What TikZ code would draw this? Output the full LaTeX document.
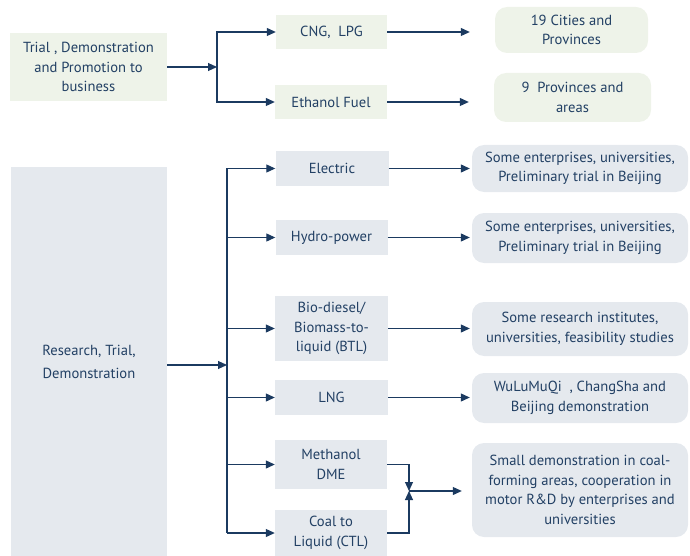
\documentclass[tikz,border=0pt]{standalone}
\usepackage{fontspec}
\setmainfont{PT Sans}
\usepackage{tikz}
\usetikzlibrary{arrows.meta}
\definecolor{navy1}{RGB}{27,58,96}
\definecolor{text1}{RGB}{34,64,100}
\definecolor{green1}{RGB}{238,243,233}
\definecolor{gray1}{RGB}{229,233,238}
\def\gap{25pt}

\begin{document}
\begin{tikzpicture}[	x=1pt, y=-1pt, >={Triangle[length=9pt,width=8pt]},
				font=\fontsize{14.6}{19.5}\selectfont, text=text1,
				link/.style={draw=navy1,line width=1.1pt},
				catbox/.style={fill=#1,align=center,inner sep=0pt},
				resbox/.style={fill=#1,align=center,inner sep=0pt,rounded corners=12pt}]

	\useasboundingbox (0,0) rectangle (690,556);

	% Trial, demonstration and promotion
	\node[catbox=green1,minimum width=157pt,minimum height=68pt] (trial) at (88.5,67) {Trial , Demonstration\\and Promotion to\\business};
	\node[catbox=green1,minimum width=111pt,minimum height=34pt] (cng) at (331.5,32) {CNG,\ \ LPG};
	\node[catbox=green1,minimum width=112pt,minimum height=34pt] (eth) at (331,102) {Ethanol Fuel};
	\node[resbox=green1,minimum width=153pt,minimum height=46pt] (cities) at (571.5,30) {19 Cities and\\Provinces};
	\node[resbox=green1,minimum width=157pt,minimum height=49pt] (prov) at (572.5,97.5) {9\ \ Provinces and\\areas};

	\coordinate (tj) at (217,67);
	\draw[link,->] (trial.east |- tj) -- (tj);
	\draw[link,->] (tj) |- (cng.west);
	\draw[link,->] (tj) |- (eth.west);
	\draw[link,->,shorten >=\gap] (cng.east) -- (cng.east -| cities.west);
	\draw[link,->,shorten >=\gap] (eth.east) -- (eth.east -| prov.west);

	% Research, trial, demonstration
	\node[catbox=gray1,minimum width=156pt,minimum height=389pt,font=\fontsize{14.6}{23}\selectfont] (research) at (89,361.5) {Research, Trial,\\Demonstration};
	\node[catbox=gray1,minimum width=113pt,minimum height=35pt] (elec) at (332,168.5) {Electric};
	\node[catbox=gray1,minimum width=112pt,minimum height=35pt] (hydro) at (331.5,237.5) {Hydro-power};
	\node[catbox=gray1,minimum width=113pt,minimum height=65pt] (bio) at (331.5,328.5) {Bio-diesel/\\Biomass-to-\\liquid (BTL)};
	\node[catbox=gray1,minimum width=113pt,minimum height=35pt] (lng) at (331.5,397.5) {LNG};
	\node[catbox=gray1,minimum width=112pt,minimum height=49pt] (meth) at (331,464.5) {Methanol\\DME};
	\node[catbox=gray1,minimum width=112pt,minimum height=46pt] (coal) at (331,533) {Coal to\\Liquid (CTL)};

	\node[resbox=gray1,minimum width=216pt,minimum height=47pt] (res1) at (580,168.5) {Some enterprises, universities,\\Preliminary trial in Beijing};
	\node[resbox=gray1,minimum width=216pt,minimum height=50pt] (res2) at (580,238) {Some enterprises, universities,\\Preliminary trial in Beijing};
	\node[resbox=gray1,minimum width=216pt,minimum height=54pt] (res3) at (580,329) {Some research institutes,\\universities, feasibility studies};
	\node[resbox=gray1,minimum width=216pt,minimum height=50pt] (res4) at (580,398) {WuLuMuQi\ \ , ChangSha and\\Beijing demonstration};
	\node[resbox=gray1,minimum width=216pt,minimum height=94pt] (res5) at (580,490) {Small demonstration in coal-\\forming areas, cooperation in\\motor R\&D by enterprises and\\universities};

	\coordinate (rj) at (227,365);
	\draw[link,->] (research.east |- rj) -- (rj);
	\draw[link] (rj) -- (rj |- elec.west);
	\draw[link] (rj) -- (rj |- coal.west);
	\foreach \n in {elec,hydro,bio,lng,meth,coal}
		\draw[link,->] (rj |- \n.west) -- (\n.west);
	\foreach \n/\r in {elec/res1,hydro/res2,bio/res3,lng/res4}
		\draw[link,->,shorten >=2pt] (\n.east) -- (\n.east -| \r.west);

	% Methanol and coal merge
	\coordinate (mj) at (409,491);
	\draw[link,->] (meth.east) -| (mj);
	\draw[link,->] (coal.east) -| (mj);
	\draw[link,->,shorten >=10pt] (mj) -- (mj -| res5.west);

\end{tikzpicture}
\end{document}
